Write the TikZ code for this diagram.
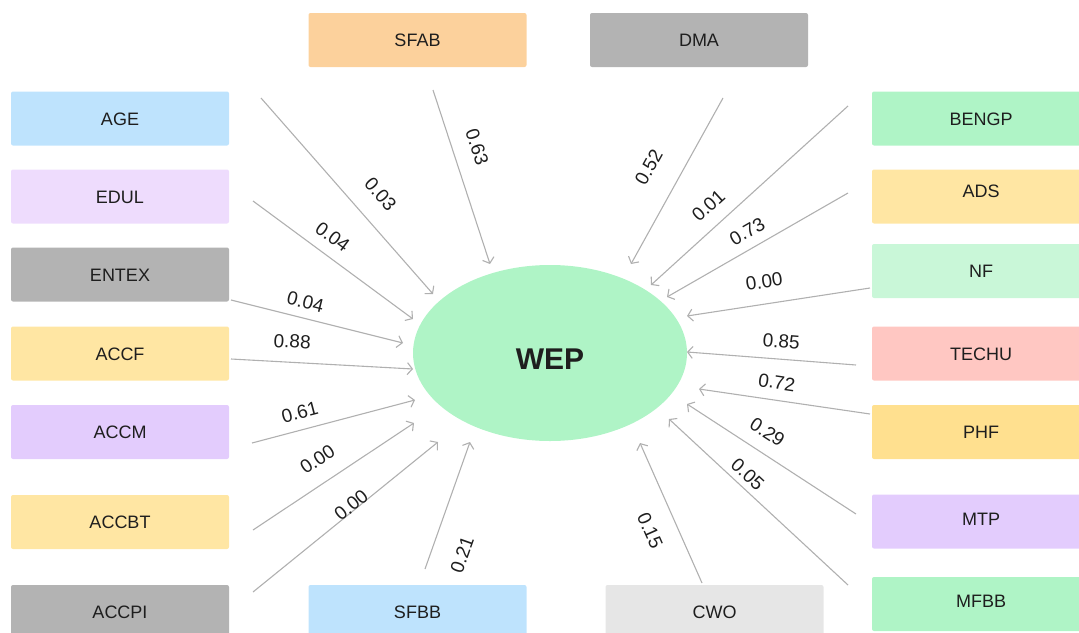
\documentclass[tikz,border=0pt]{standalone}
\usepackage{fontspec}
\setmainfont{Liberation Sans}
\usetikzlibrary{arrows.meta}
\usetikzlibrary{shapes.geometric}
\definecolor{ink}{HTML}{1E1E1E}
\definecolor{wire}{HTML}{B0B0B0}
\definecolor{skyfill}{HTML}{BEE3FD}
\definecolor{lilacfill}{HTML}{EEDCFD}
\definecolor{violetfill}{HTML}{E3CCFD}
\definecolor{greyfill}{HTML}{B3B3B3}
\definecolor{paleyellow}{HTML}{FFE6A3}
\definecolor{goldfill}{HTML}{FFE08F}
\definecolor{peachfill}{HTML}{FCD19C}
\definecolor{silverfill}{HTML}{E6E6E6}
\definecolor{mintfill}{HTML}{AFF4C6}
\definecolor{palemint}{HTML}{C9F7D8}
\definecolor{rosefill}{HTML}{FFC7C2}
\tikzstyle{factor} = [rectangle, rounded corners=2pt, minimum width=218pt,
minimum height=54pt, inner sep=0pt, text=ink, text height=13pt, text depth=0pt,
font=\fontsize{18}{18}\selectfont]
\tikzstyle{target} = [ellipse, fill=mintfill, minimum width=274pt,
minimum height=176pt, inner sep=0pt, text=ink, text height=32pt, text depth=0pt,
font=\fontsize{30}{30}\selectfont\bfseries]
\tikzstyle{effect} = [draw=wire, line width=1.1pt,
-{Straight Barb[length=5pt,width=12pt]}]
\tikzstyle{weight} = [sloped, inner sep=0pt, text=ink,
font=\fontsize{19}{19}\selectfont]

\begin{document}
\begin{tikzpicture}[x=1pt, y=-1pt]
  \path[use as bounding box, clip] (0,0) rectangle (1079,632);

  % outcome
  \node[target] (wep) at (550,353) {WEP};

  % left column
  \node[factor, fill=skyfill] (age) at (120,118.5) {AGE};
  \node[factor, fill=lilacfill] (edul) at (120,196.5) {EDUL};
  \node[factor, fill=greyfill] (entex) at (120,274.5) {ENTEX};
  \node[factor, fill=paleyellow] (accf) at (120,353.5) {ACCF};
  \node[factor, fill=violetfill] (accm) at (120,432) {ACCM};
  \node[factor, fill=paleyellow] (accbt) at (120,522) {ACCBT};
  \node[factor, fill=greyfill] (accpi) at (120,612) {ACCPI};

  % top and bottom
  \node[factor, fill=peachfill] (sfab) at (417.5,40) {SFAB};
  \node[factor, fill=greyfill] (dma) at (699,40) {DMA};
  \node[factor, fill=skyfill] (sfbb) at (417.5,612) {SFBB};
  \node[factor, fill=silverfill] (cwo) at (714.5,612) {CWO};

  % right column
  \node[factor, fill=mintfill] (bengp) at (981,118.5) {BENGP};
  \node[factor, fill=paleyellow, text depth=12pt] (ads) at (981,196.5) {ADS};
  \node[factor, fill=palemint] (nf) at (981,271) {NF};
  \node[factor, fill=rosefill] (techu) at (981,353.5) {TECHU};
  \node[factor, fill=goldfill] (phf) at (981,432) {PHF};
  \node[factor, fill=violetfill, text depth=6pt] (mtp) at (981,521.5) {MTP};
  \node[factor, fill=mintfill, text depth=6pt] (mfbb) at (981,604) {MFBB};

  % arrow ends
  \coordinate (age-s) at (261,98);    \coordinate (age-e) at (433,294);
  \coordinate (edul-s) at (253,201);  \coordinate (edul-e) at (413,319);
  \coordinate (entex-s) at (231,300); \coordinate (entex-e) at (403,343);
  \coordinate (accf-s) at (231,359);  \coordinate (accf-e) at (413,369);
  \coordinate (accm-s) at (252,443);  \coordinate (accm-e) at (415,400);
  \coordinate (accbt-s) at (253,530); \coordinate (accbt-e) at (414,423);
  \coordinate (accpi-s) at (253,592); \coordinate (accpi-e) at (438,442);
  \coordinate (sfbb-s) at (425,569);  \coordinate (sfbb-e) at (470,442);
  \coordinate (sfab-s) at (433,90);   \coordinate (sfab-e) at (490,264);
  \coordinate (dma-s) at (723,98);    \coordinate (dma-e) at (631,264);
  \coordinate (bengp-s) at (848,106); \coordinate (bengp-e) at (651,285);
  \coordinate (ads-s) at (848,193);   \coordinate (ads-e) at (667,297);
  \coordinate (nf-s) at (870,288);    \coordinate (nf-e) at (687,316);
  \coordinate (techu-s) at (856,365); \coordinate (techu-e) at (687,352);
  \coordinate (phf-s) at (870,414);   \coordinate (phf-e) at (699,389);
  \coordinate (mtp-s) at (856,514);   \coordinate (mtp-e) at (687,404);
  \coordinate (mfbb-s) at (848,585);  \coordinate (mfbb-e) at (669,419);
  \coordinate (cwo-s) at (702,583);   \coordinate (cwo-e) at (640,443);

  % path coefficients
  \draw[effect] (age-s) -- (age-e) node[weight, pos=.58, above=19pt] {0.03};
  \draw[effect] (edul-s) -- (edul-e) node[weight, pos=.43, above=11pt] {0.04};
  \draw[effect] (entex-s) -- (entex-e) node[weight, pos=.41, above=9pt] {0.04};
  \draw[effect] (accf-s) -- (accf-e) node[weight, pos=.33, above=13.5pt] {0.88};
  \draw[effect] (accm-s) -- (accm-e) node[weight, pos=.32, above=10pt] {0.61};
  \draw[effect] (accbt-s) -- (accbt-e) node[weight, pos=.48, above=16pt] {0.00};
  \draw[effect] (accpi-s) -- (accpi-e) node[weight, pos=.55, above=-1.5pt] {0.00};
  \draw[effect] (sfbb-s) -- (sfbb-e) node[weight, pos=.19, below=23pt] {0.21};
  \draw[effect] (sfab-s) -- (sfab-e) node[weight, pos=.37, above=17pt] {0.63};
  \draw[effect] (dma-s) -- (dma-e) node[weight, pos=.51, above=24pt] {0.52};
  \draw[effect] (bengp-s) -- (bengp-e) node[weight, pos=.64, above=13pt] {0.01};
  \draw[effect] (ads-s) -- (ads-e) node[weight, pos=.51, above=9.7pt] {0.73};
  \draw[effect] (nf-s) -- (nf-e) node[weight, pos=.56, above=15pt] {0.00};
  \draw[effect] (techu-s) -- (techu-e) node[weight, pos=.45, above=10.4pt] {0.85};
  \draw[effect] (phf-s) -- (phf-e) node[weight, pos=.56, above=10.4pt] {0.72};
  \draw[effect] (mtp-s) -- (mtp-e) node[weight, pos=.59, above=13pt] {0.29};
  \draw[effect] (mfbb-s) -- (mfbb-e) node[weight, pos=.61, above=5.8pt] {0.05};
  \draw[effect] (cwo-s) -- (cwo-e) node[weight, pos=.45, below=19pt] {0.15};
\end{tikzpicture}
\end{document}
